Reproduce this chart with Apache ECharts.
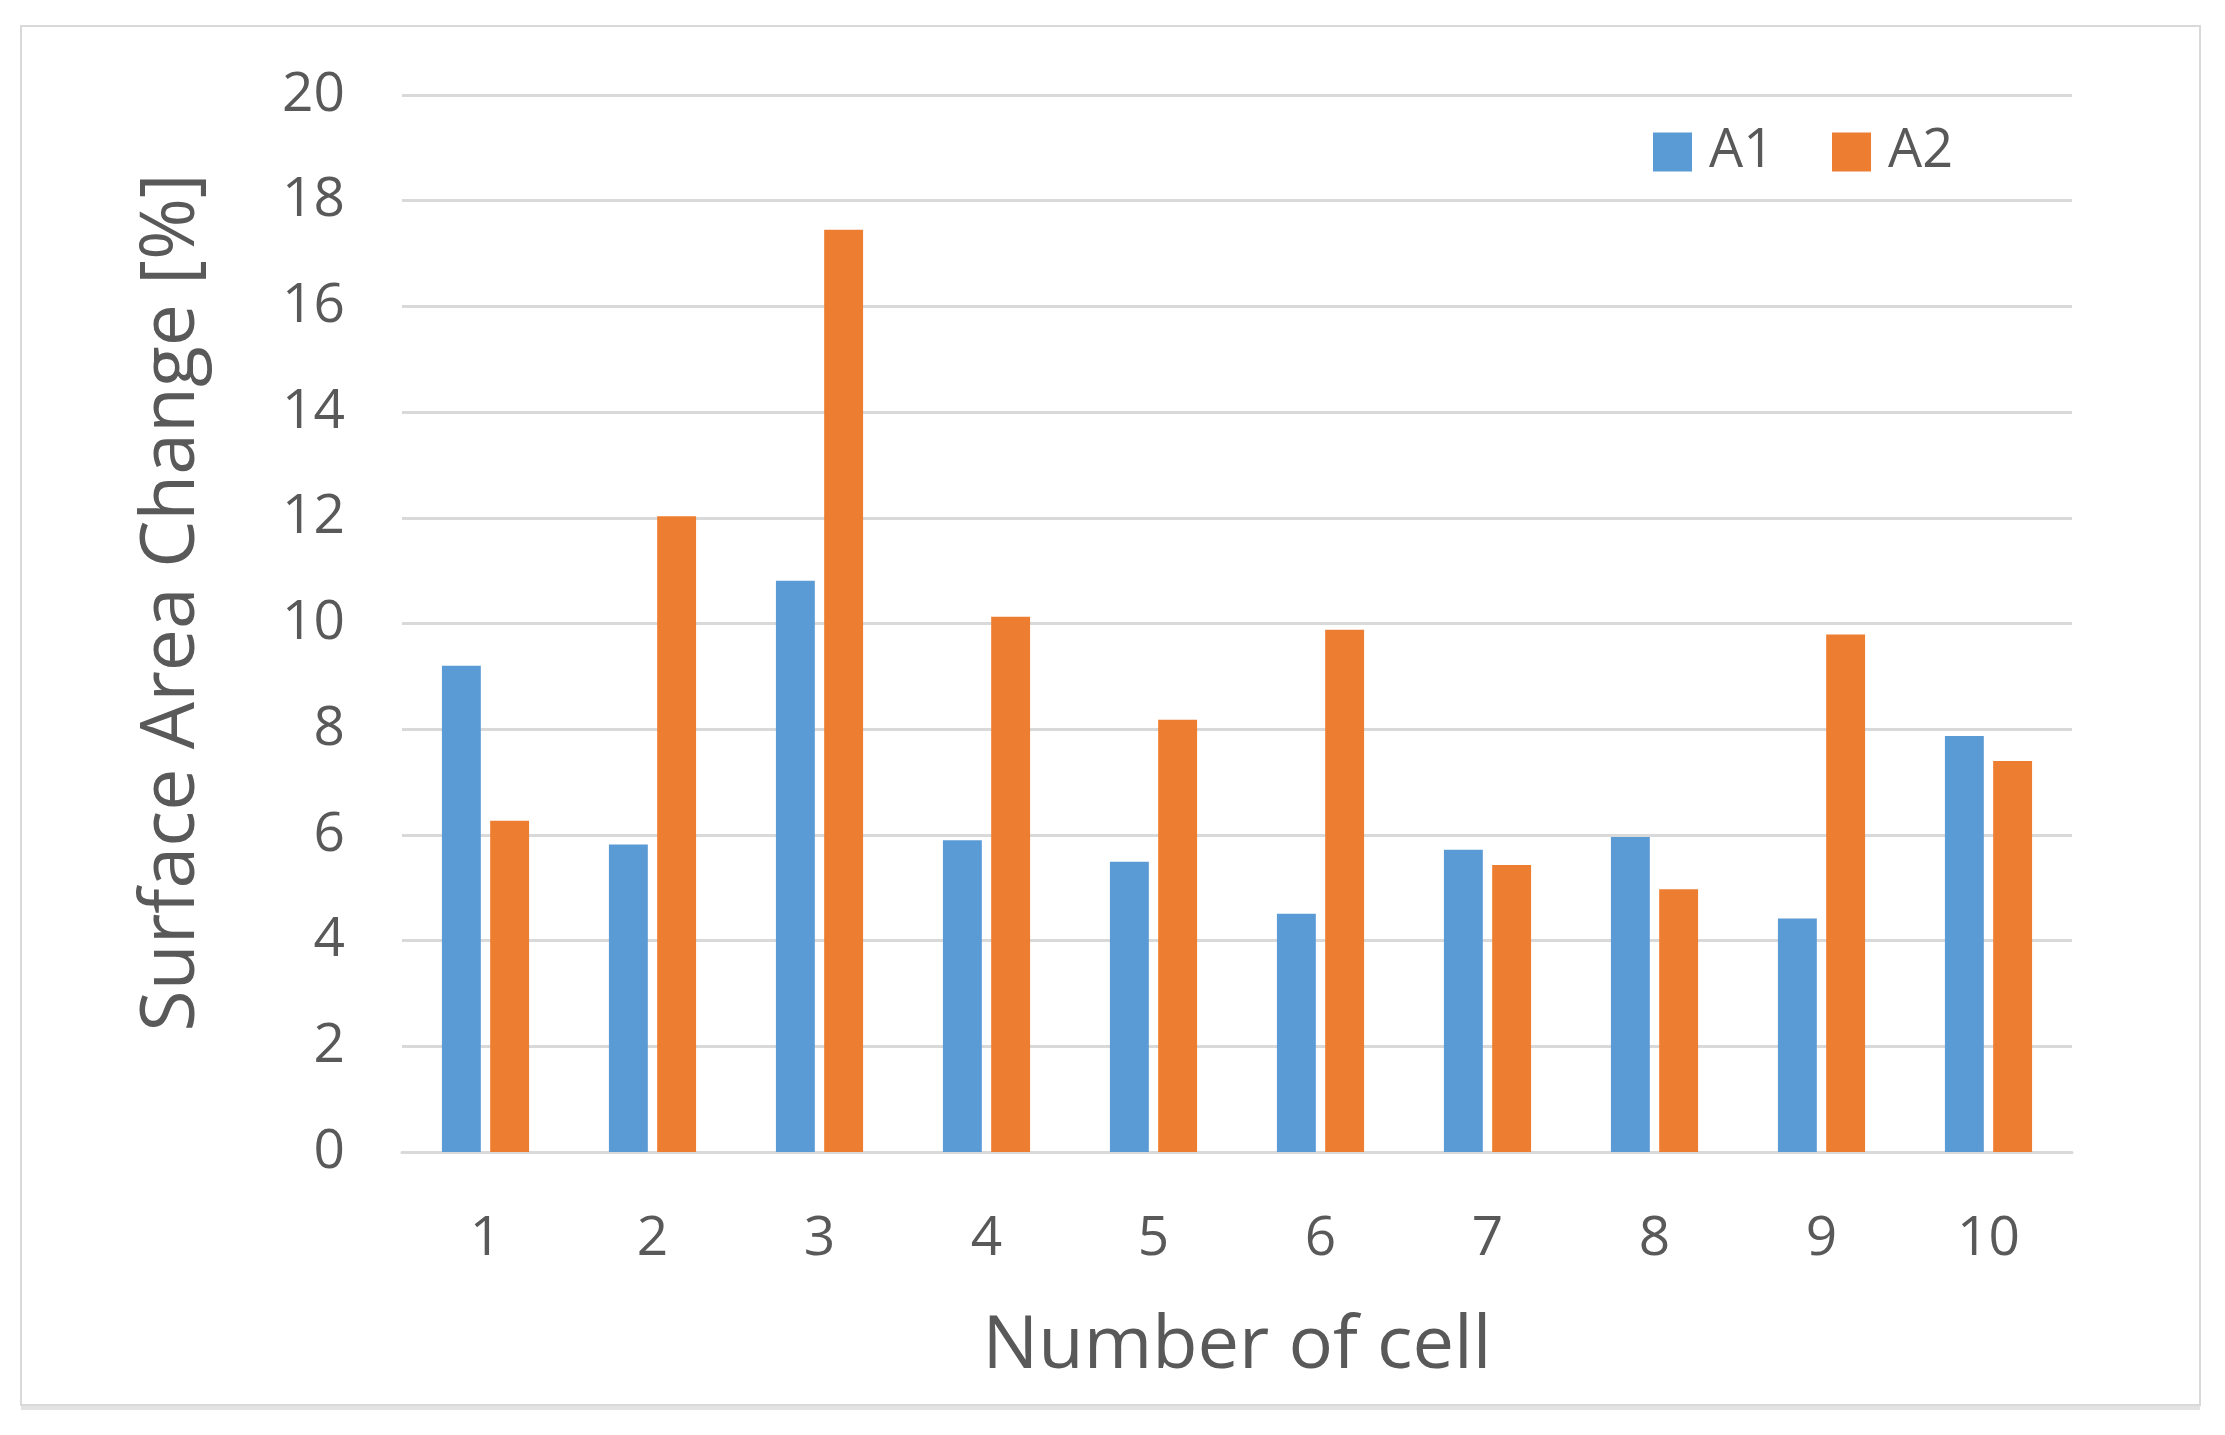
<!DOCTYPE html>
<html>
<head>
<meta charset="utf-8">
<script src="https://cdn.jsdelivr.net/npm/echarts@6/dist/echarts.min.js"></script>
<style>
html,body{margin:0;padding:0;background:#fff;}
#chart{width:2225px;height:1435px;}
</style>
</head>
<body>
<div id="chart"></div>
<script>
var categories = ['1','2','3','4','5','6','7','8','9','10'];
var seriesA1 = [9.2, 5.82, 10.81, 5.9, 5.49, 4.51, 5.72, 5.96, 4.42, 7.87];
var seriesA2 = [6.27, 12.03, 17.45, 10.13, 8.18, 9.88, 5.43, 4.97, 9.79, 7.40];
var yTicks = [0, 2, 4, 6, 8, 10, 12, 14, 16, 18, 20];

var FONT = '"Open Sans", "DejaVu Sans", sans-serif';
var TXT = '#595959';

var chart = echarts.init(document.getElementById('chart'), null, {renderer: 'canvas'});
chart.setOption({
  backgroundColor: '#ffffff',
  animation: false,
  graphic: [{
    type: 'rect',
    shape: {x: 21, y: 26, width: 2179, height: 1379},
    style: {fill: 'none', stroke: '#d9d9d9', lineWidth: 2},
    silent: true,
    z: -10
  }, {
    type: 'line',
    shape: {x1: 21, y1: 1408, x2: 2200, y2: 1408},
    style: {stroke: '#e3e3e3', lineWidth: 4},
    silent: true,
    z: -10
  }],
  legend: {
    data: ['A1', 'A2'],
    left: 1648,
    top: 120,
    itemWidth: 39,
    itemHeight: 39,
    itemGap: 58,
    icon: 'rect',
    textStyle: {fontFamily: FONT, fontSize: 54, color: TXT, padding: [0, 0, 0, 12]}
  },
  grid: {left: 402, right: 153, top: 95, bottom: 283, containLabel: false},
  xAxis: {
    type: 'category',
    data: categories,
    name: 'Number of cell',
    nameLocation: 'middle',
    nameGap: 158,
    nameTextStyle: {fontFamily: FONT, fontSize: 74, color: TXT},
    axisLine: {show: true, lineStyle: {color: '#d9d9d9', width: 3}},
    axisTick: {show: false},
    axisLabel: {fontFamily: FONT, fontSize: 55, color: TXT, margin: 60}
  },
  yAxis: {
    type: 'value',
    min: yTicks[0],
    max: yTicks[yTicks.length - 1],
    interval: 2,
    name: 'Surface Area Change [%]',
    nameLocation: 'middle',
    nameGap: 192,
    nameTextStyle: {fontFamily: FONT, fontSize: 75, color: TXT, padding: [0, 0, 0, 42]},
    axisLine: {show: false},
    axisTick: {show: false},
    axisLabel: {fontFamily: FONT, fontSize: 55, color: TXT, margin: 57},
    splitLine: {show: true, lineStyle: {color: '#d9d9d9', width: 3}}
  },
  series: [{
    name: 'A1',
    type: 'bar',
    data: seriesA1,
    barWidth: '23.3%',
    barGap: '24%',
    itemStyle: {color: '#5b9bd5'}
  }, {
    name: 'A2',
    type: 'bar',
    data: seriesA2,
    barWidth: '23.3%',
    barGap: '24%',
    itemStyle: {color: '#ed7d31'}
  }]
});
</script>
</body>
</html>
